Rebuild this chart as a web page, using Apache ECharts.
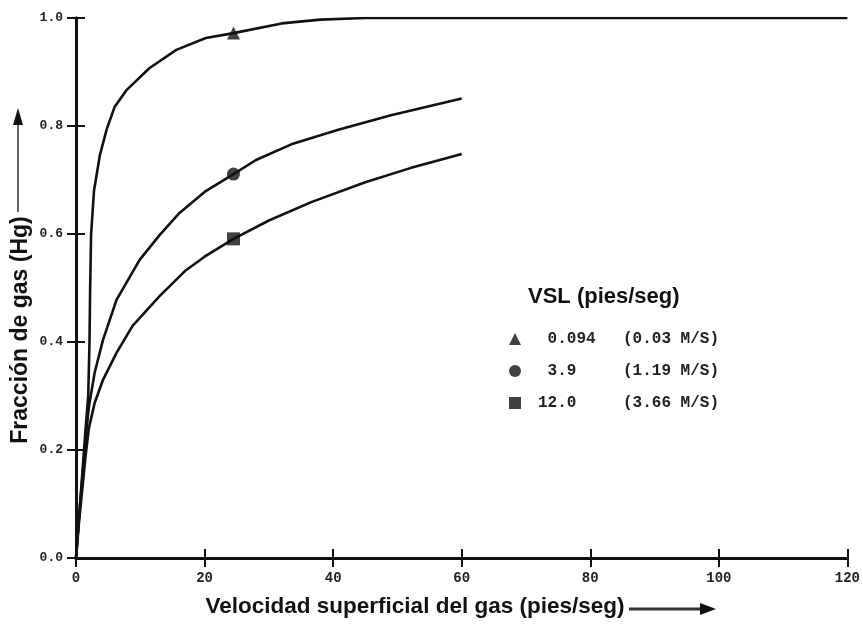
<!DOCTYPE html>
<html>
<head>
<meta charset="utf-8">
<script src="https://cdn.jsdelivr.net/npm/echarts@6/dist/echarts.min.js"></script>
<style>
  html, body { margin: 0; padding: 0; background: #fff; }
  #chart { width: 863px; height: 633px; }
</style>
</head>
<body>
<div id="chart"></div>
<script>
// curva VSL = 0.094 pies/seg
var vsl1X = [0, 0.5, 1.0, 1.5, 1.9, 2.1, 2.2, 2.35, 2.8, 3.7, 4.8, 6.0, 7.9, 11.4, 15.6, 20.2, 24.5, 32, 38, 45, 120]
var vsl1Y = [0, 0.08, 0.16, 0.24, 0.30, 0.40, 0.50, 0.60, 0.68, 0.745, 0.795, 0.835, 0.867, 0.907, 0.941, 0.963, 0.972, 0.99, 0.997, 1.0, 1.0]
// curva VSL = 3.9 pies/seg
var vsl2X = [0, 0.5, 1.0, 1.5, 2.0, 2.9, 4.2, 6.3, 9.9, 13, 16.1, 20, 24.5, 28, 33.5, 40.8, 49, 60]
var vsl2Y = [0, 0.08, 0.15, 0.22, 0.28, 0.343, 0.404, 0.478, 0.552, 0.598, 0.639, 0.678, 0.711, 0.737, 0.766, 0.793, 0.82, 0.851]
// curva VSL = 12.0 pies/seg
var vsl3X = [0, 0.5, 1.0, 1.5, 2.0, 2.9, 4.2, 6.3, 8.8, 13, 17.1, 20, 24.5, 30, 36.6, 45, 52, 60]
var vsl3Y = [0, 0.07, 0.13, 0.19, 0.24, 0.287, 0.33, 0.38, 0.43, 0.485, 0.533, 0.558, 0.591, 0.625, 0.659, 0.696, 0.722, 0.748]

// puntos marcados
var markX = 24.5
var markY = [0.972, 0.711, 0.591]
var vslNames = [' 0.094', ' 3.9', '12.0']
var vslMs = ['(0.03 M/S)', '(1.19 M/S)', '(3.66 M/S)']
var vslSymbols = ['triangle', 'circle', 'rect']

function zip(xs, ys) {
  return xs.map(function (x, i) { return [x, ys[i]] })
}

var chart = echarts.init(document.getElementById('chart'))

var axisLine = { show: true, lineStyle: { color: '#111', width: 3 } }
var axisTick = { show: true, inside: true, length: 9, lineStyle: { color: '#111', width: 2 } }
var tickFont = { fontFamily: 'Liberation Mono', fontWeight: 'bold', fontSize: 13, color: '#222' }

var lineSeries = [zip(vsl1X, vsl1Y), zip(vsl2X, vsl2Y), zip(vsl3X, vsl3Y)].map(function (d) {
  return {
    type: 'line',
    data: d,
    showSymbol: false,
    silent: true,
    lineStyle: { color: '#111', width: 2.6 },
    z: 3
  }
})

var markSeries = vslNames.map(function (name, i) {
  return {
    type: 'scatter',
    name: name,
    data: [[markX, markY[i]]],
    symbol: vslSymbols[i],
    symbolSize: 13,
    itemStyle: { color: '#111' },
    z: 4
  }
})

var msMap = {}
vslNames.forEach(function (n, i) { msMap[n] = vslMs[i] })

var option = {
  animation: false,
  backgroundColor: '#fff',
  grid: { left: 76, right: 12, top: 18, bottom: 75 },
  xAxis: [{
    type: 'value',
    min: 0,
    max: 120,
    interval: 20,
    axisLine: axisLine,
    axisTick: axisTick,
    splitLine: { show: false },
    axisLabel: Object.assign({ margin: 13 }, tickFont, { fontSize: 14 })
  }, {
    type: 'value',
    position: 'top',
    min: 0,
    max: 120,
    interval: 20,
    axisLine: axisLine,
    axisTick: axisTick,
    splitLine: { show: false },
    axisLabel: { show: false }
  }],
  yAxis: [{
    type: 'value',
    min: 0,
    max: 1,
    interval: 0.2,
    axisLine: axisLine,
    axisTick: axisTick,
    splitLine: { show: false },
    axisLabel: Object.assign({
      margin: 13,
      formatter: function (v) { return v.toFixed(1) }
    }, tickFont)
  }, {
    type: 'value',
    position: 'right',
    min: 0,
    max: 1,
    interval: 0.2,
    axisLine: axisLine,
    axisTick: axisTick,
    splitLine: { show: false },
    axisLabel: { show: false }
  }],
  legend: {
    data: vslNames,
    orient: 'vertical',
    left: 504,
    top: 326,
    itemWidth: 12,
    itemHeight: 12,
    itemGap: 16,
    selectedMode: false,
    formatter: function (name) {
      return '{a|' + name + '}{b|' + msMap[name] + '}'
    },
    textStyle: {
      rich: {
        a: { fontFamily: 'Liberation Mono', fontWeight: 'bold', fontSize: 16, color: '#222', width: 85, padding: [0, 0, 0, 12] },
        b: { fontFamily: 'Liberation Mono', fontWeight: 'bold', fontSize: 16, color: '#222' }
      }
    }
  },
  graphic: [
    {
      type: 'text',
      left: 528,
      top: 286,
      style: { text: 'VSL (pies/seg)', fontFamily: 'Liberation Sans', fontWeight: 'bold', fontSize: 22, fill: '#111' }
    },
    {
      type: 'text',
      x: 415,
      y: 607,
      style: {
        text: 'Velocidad superficial del gas (pies/seg)',
        fontFamily: 'Liberation Sans', fontWeight: 'bold', fontSize: 22.5,
        fill: '#111', textAlign: 'center', textVerticalAlign: 'middle'
      }
    },
    {
      type: 'line',
      shape: { x1: 629, y1: 609, x2: 702, y2: 609 },
      style: { stroke: '#333', lineWidth: 3 }
    },
    {
      type: 'polygon',
      shape: { points: [[700, 603], [716, 609], [700, 615]] },
      style: { fill: '#111' }
    },
    {
      type: 'text',
      x: 21,
      y: 330,
      rotation: Math.PI / 2,
      style: {
        text: 'Fracción de gas (Hg)',
        fontFamily: 'Liberation Sans', fontWeight: 'bold', fontSize: 23,
        fill: '#111', textAlign: 'center', textVerticalAlign: 'middle'
      }
    },
    {
      type: 'line',
      shape: { x1: 18, y1: 212, x2: 18, y2: 122 },
      style: { stroke: '#333', lineWidth: 1.5 }
    },
    {
      type: 'polygon',
      shape: { points: [[13, 125], [18, 108], [23, 125]] },
      style: { fill: '#111' }
    }
  ],
  series: lineSeries.concat(markSeries)
}

chart.setOption(option)
</script>
</body>
</html>
